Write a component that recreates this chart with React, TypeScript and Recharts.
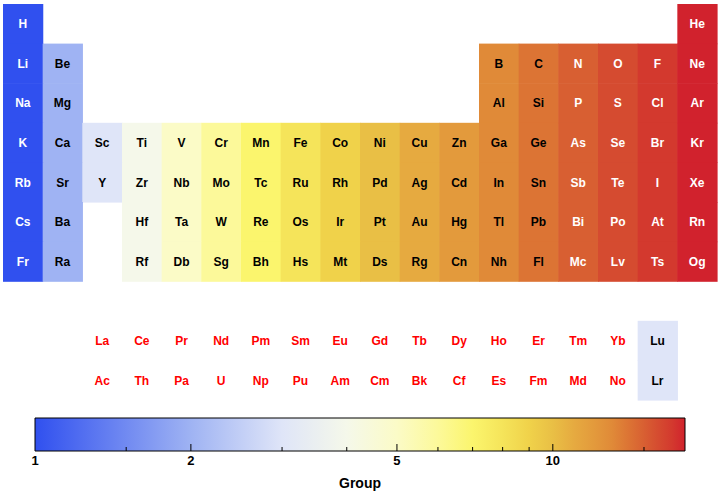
import { ComposedChart, Line, ReferenceArea, Scatter, ScatterChart, XAxis, YAxis } from "recharts";

const period1 = ["H", "He"];
const period1Groups = [1, 18];
const period2 = ["Li", "Be", "B", "C", "N", "O", "F", "Ne"];
const period2Groups = [1, 2, 13, 14, 15, 16, 17, 18];
const period3 = ["Na", "Mg", "Al", "Si", "P", "S", "Cl", "Ar"];
const period3Groups = [1, 2, 13, 14, 15, 16, 17, 18];
const period4 = ["K", "Ca", "Sc", "Ti", "V", "Cr", "Mn", "Fe", "Co", "Ni", "Cu", "Zn", "Ga", "Ge", "As", "Se", "Br", "Kr"];
const period4Groups = [1, 2, 3, 4, 5, 6, 7, 8, 9, 10, 11, 12, 13, 14, 15, 16, 17, 18];
const period5 = ["Rb", "Sr", "Y", "Zr", "Nb", "Mo", "Tc", "Ru", "Rh", "Pd", "Ag", "Cd", "In", "Sn", "Sb", "Te", "I", "Xe"];
const period5Groups = [1, 2, 3, 4, 5, 6, 7, 8, 9, 10, 11, 12, 13, 14, 15, 16, 17, 18];
const period6 = ["Cs", "Ba", "Hf", "Ta", "W", "Re", "Os", "Ir", "Pt", "Au", "Hg", "Tl", "Pb", "Bi", "Po", "At", "Rn"];
const period6Groups = [1, 2, 4, 5, 6, 7, 8, 9, 10, 11, 12, 13, 14, 15, 16, 17, 18];
const period7 = ["Fr", "Ra", "Rf", "Db", "Sg", "Bh", "Hs", "Mt", "Ds", "Rg", "Cn", "Nh", "Fl", "Mc", "Lv", "Ts", "Og"];
const period7Groups = [1, 2, 4, 5, 6, 7, 8, 9, 10, 11, 12, 13, 14, 15, 16, 17, 18];

// f-block rows sit under the table, Lu/Lr carry the group 3 colour
const lanthanides = ["La", "Ce", "Pr", "Nd", "Pm", "Sm", "Eu", "Gd", "Tb", "Dy", "Ho", "Er", "Tm", "Yb", "Lu"];
const actinides = ["Ac", "Th", "Pa", "U", "Np", "Pu", "Am", "Cm", "Bk", "Cf", "Es", "Fm", "Md", "No", "Lr"];
const fBlockGroups = [null, null, null, null, null, null, null, null, null, null, null, null, null, null, 3];
const fBlockColumns = [3, 4, 5, 6, 7, 8, 9, 10, 11, 12, 13, 14, 15, 16, 17];

const groupColors = [
  "#3050ef", "#9fb3f3", "#dfe5f8", "#f5f8ea", "#fbfbc7", "#fcf99a",
  "#fbf56d", "#f5e45a", "#f0d24a", "#e9bf45", "#e6aa40", "#e39a3c",
  "#e08a38", "#dc7434", "#d85f32", "#d54b30", "#d3392e", "#d1222d"
];

const majorTicks = [1, 2, 5, 10];
const minorTicks = [1.5, 3, 4, 6, 7, 8, 9, 15];
const groupMax = 18;

type Cell = { x: number; y: number; symbol: string; group: number | null };

const periods: [string[], number[]][] = [
  [period1, period1Groups],
  [period2, period2Groups],
  [period3, period3Groups],
  [period4, period4Groups],
  [period5, period5Groups],
  [period6, period6Groups],
  [period7, period7Groups]
];

const cells: Cell[] = [];
periods.forEach(([syms, groups], i) => {
  syms.forEach((s, j) => cells.push({ x: groups[j], y: i + 1, symbol: s, group: groups[j] }));
});
lanthanides.forEach((s, j) => cells.push({ x: fBlockColumns[j], y: 9, symbol: s, group: fBlockGroups[j] }));
actinides.forEach((s, j) => cells.push({ x: fBlockColumns[j], y: 10, symbol: s, group: fBlockGroups[j] }));

const W = 720;
const GRID_H = 410;
const M = { top: 4, right: 3, bottom: 10, left: 3 };
const cellW = (W - M.left - M.right) / 18;
const cellH = (GRID_H - M.top - M.bottom) / 10;
const FONT = "'Liberation Sans', Arial, Helvetica, sans-serif";

const CellShape = (props: any) => {
  const { cx, cy, payload } = props;
  const g = payload.group as number | null;
  const fill = g ? groupColors[g - 1] : "none";
  const textFill = g === null ? "#ff0000" : g === 1 || g >= 15 ? "#ffffff" : "#000000";
  return (
    <g>
      {g && (
        <rect
          x={cx - cellW / 2}
          y={cy - cellH / 2}
          width={cellW + 0.6}
          height={cellH + 0.6}
          fill={fill}
        />
      )}
      <text
        x={cx}
        y={cy}
        dy="0.36em"
        textAnchor="middle"
        fontFamily={FONT}
        fontWeight="bold"
        fontSize={12}
        fill={textFill}
      >
        {payload.symbol}
      </text>
    </g>
  );
};

const ColorbarTick = (props: any) => {
  const { x, y, payload } = props;
  const v = payload.value as number;
  const major = majorTicks.includes(v);
  return (
    <g>
      {v > 1 && v < groupMax && (
        <line x1={x} x2={x} y1={y} y2={y - (major ? 7 : 4)} stroke="#000" strokeWidth={1} />
      )}
      {major && (
        <text x={x} y={y + 14} textAnchor="middle" fontFamily={FONT} fontWeight="bold" fontSize={13} fill="#000">
          {v}
        </text>
      )}
    </g>
  );
};

const gradientStops = groupColors.map((c, i) => ({
  offset: Math.log(i + 1) / Math.log(groupMax),
  color: c
}));

const colorbarData = [1, groupMax].map((t) => ({ g: t, v: 0.5 }));

export default function App() {
  return (
    <div style={{ position: "absolute", left: 0, top: 0, width: W, height: 494, background: "#fff" }}>
      <ScatterChart width={W} height={GRID_H} margin={M}>
        <XAxis type="number" dataKey="x" domain={[0.5, 18.5]} hide />
        <YAxis type="number" dataKey="y" domain={[0.5, 10.5]} reversed hide />
        <Scatter data={cells} shape={CellShape} isAnimationActive={false} />
      </ScatterChart>
      <ComposedChart
        width={W}
        height={84}
        data={colorbarData}
        margin={{ top: 8, right: 35, bottom: 0, left: 35 }}
      >
        <defs>
          <linearGradient id="groupScale" x1="0" y1="0" x2="1" y2="0">
            {gradientStops.map((s) => (
              <stop key={s.offset} offset={s.offset} stopColor={s.color} />
            ))}
          </linearGradient>
        </defs>
        <XAxis
          type="number"
          dataKey="g"
          scale="log"
          domain={[1, groupMax]}
          ticks={[...majorTicks, ...minorTicks]}
          interval={0}
          height={43}
          tickSize={0}
          tickMargin={0}
          tickLine={false}
          axisLine={false}
          tick={ColorbarTick}
          allowDataOverflow
          label={{
            value: "Group",
            position: "insideBottom",
            offset: 6,
            style: { fontFamily: FONT, fontWeight: "bold", fontSize: 14, fill: "#000" }
          }}
        />
        <YAxis type="number" domain={[0, 1]} hide />
        <Line dataKey="v" stroke="none" dot={false} isAnimationActive={false} />
        <ReferenceArea
          x1={1}
          x2={groupMax}
          ifOverflow="visible"
          fill="url(#groupScale)"
          fillOpacity={1}
          stroke="#000"
          strokeWidth={1}
        />
      </ComposedChart>
    </div>
  );
}
